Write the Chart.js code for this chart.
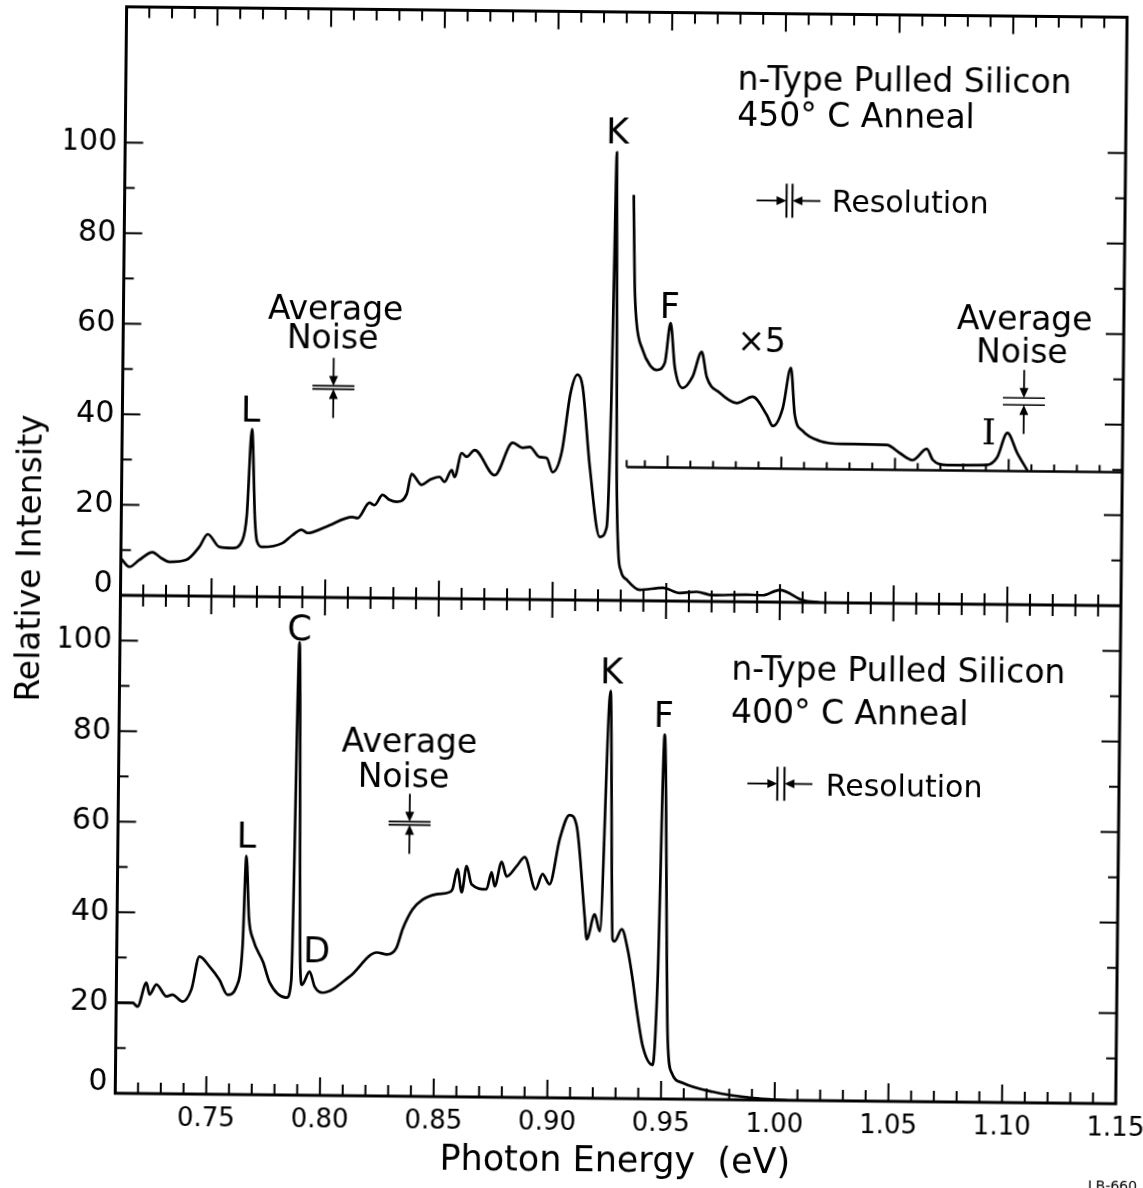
<!DOCTYPE html>
<html>
<head>
<meta charset="utf-8">
<title>Photoluminescence of n-type pulled silicon</title>
<script src="https://cdn.jsdelivr.net/npm/chart.js@4.4.1/dist/chart.umd.min.js"></script>
<style>
  html, body { margin: 0; padding: 0; background: #fff; overflow: hidden; }
  #sheet { position: absolute; left: 0; top: 0; width: 1170px; height: 1188px;
           transform: rotate(0.6deg); transform-origin: 571.5px 594px; }
  canvas { display: block; }
</style>
</head>
<body>
<div id="sheet"><canvas id="spectra" width="1170" height="1188"></canvas></div>
<script>
// ---- Spectrum, 450 °C anneal (relative intensity vs photon energy, eV) ----
const topEnergy = [0.7100,0.7138,0.7180,0.7239,0.7275,0.7314,0.7389,0.7445,0.7481,0.7533,0.7591,0.7634,0.7652,0.7671,0.7688,0.7698,0.7722,0.7810,0.7854,0.7893,0.7920,0.8000,0.8117,0.8139,0.8191,0.8213,0.8248,0.8279,0.8310,0.8354,0.8375,0.8419,0.8454,0.8498,0.8520,0.8551,0.8564,0.8594,0.8616,0.8651,0.8740,0.8818,0.8862,0.8893,0.8937,0.8968,0.8995,0.9034,0.9070,0.9100,0.9123,0.9158,0.9205,0.9235,0.9250,0.9256,0.9263,0.9276,0.9287,0.9300,0.9326,0.9383,0.9485,0.9559,0.9634,0.9704,0.9850,0.9924,0.9999,1.0101,1.0176];
const topIntensity = [8.2,6.3,7.8,9.6,8.4,7.5,8.0,10.9,13.7,10.9,10.7,12.5,18.0,37.0,17.0,12.2,11.0,11.9,13.7,14.9,14.2,15.6,17.8,17.6,21.0,20.5,22.8,21.7,21.3,23.0,27.5,25.1,26.2,26.9,25.8,28.4,26.9,32.2,31.4,32.9,27.4,34.6,33.5,33.7,31.5,31.3,28.2,32.7,45.7,49.8,47.1,29.4,14.0,16.2,45.0,72.0,99.0,30.0,11.0,6.5,4.6,2.4,2.9,1.8,2.1,1.4,1.6,1.5,2.7,0.5,0.0];

// ---- Same spectrum magnified ×5, drawn above its own baseline ----
const insetEnergy = [0.9339,0.9347,0.9356,0.9385,0.9417,0.9448,0.9483,0.9507,0.9527,0.9563,0.9606,0.9645,0.9668,0.9726,0.9801,0.9871,0.9934,0.9961,1.0004,1.0038,1.0057,1.0092,1.0169,1.0270,1.0463,1.0521,1.0578,1.0639,1.0666,1.0728,1.0904,1.0948,1.0993,1.1037,1.1081];
const insetIntensity = [89.4,70.0,62.0,55.4,52.1,51.0,52.6,61.4,51.7,47.1,49.6,55.1,49.6,46.1,43.9,45.3,41.3,38.9,42.9,51.8,41.4,37.9,35.7,35.1,35.0,33.2,31.7,34.2,31.8,30.7,30.8,32.4,37.9,33.5,29.8];
const insetBaseline = 29.5;   // zero line of the ×5 trace on the upper intensity scale
const insetStart = 0.932;     // left end of that zero line (eV)

// ---- Spectrum, 400 °C anneal ----
const bottomEnergy = [0.7101,0.7172,0.7194,0.7232,0.7246,0.7276,0.7321,0.7347,0.7392,0.7430,0.7464,0.7509,0.7553,0.7589,0.7628,0.7653,0.7666,0.7680,0.7699,0.7745,0.7774,0.7849,0.7869,0.7890,0.7908,0.7916,0.7949,0.7972,0.8007,0.8125,0.8244,0.8288,0.8330,0.8356,0.8399,0.8443,0.8504,0.8561,0.8574,0.8595,0.8614,0.8635,0.8657,0.8723,0.8745,0.8759,0.8789,0.8811,0.8855,0.8890,0.8939,0.8969,0.9000,0.9043,0.9085,0.9117,0.9156,0.9166,0.9200,0.9223,0.9260,0.9280,0.9289,0.9320,0.9347,0.9370,0.9389,0.9418,0.9462,0.9480,0.9500,0.9527,0.9546,0.9595,0.9727,0.9904,1.0050];
const bottomIntensity = [20.0,20.0,19.2,24.5,21.9,24.1,21.5,21.9,20.4,23.1,30.4,28.2,25.3,22.0,23.8,32.7,52.7,39.0,34.3,29.2,24.8,21.5,25.5,100.0,28.0,24.4,27.3,24.0,22.7,26.3,31.7,31.3,32.8,36.9,41.3,43.5,44.7,45.2,45.9,50.3,45.2,51.0,47.0,45.9,49.7,46.6,52.0,48.8,51.1,53.1,46.0,49.4,47.2,57.2,62.5,60.1,40.2,35.1,40.6,36.9,90.0,35.1,34.7,37.4,32.9,26.3,19.7,11.5,7.5,26.4,80.5,13.1,5.8,3.6,1.7,0.4,0.0];

// ---- Axis ticks ----
const energyTicks = [0.75,0.80,0.85,0.90,0.95,1.00,1.05,1.10,1.15];
const energyTickLabels = ['0.75','0.80','0.85','0.90','0.95','1.00','1.05','1.10','1.15'];
const intensityTicks = [0,20,40,60,80,100];
const intensityTickLabels = ['0','20','40','60','80','100'];

const INK = '#000';
const FONT = 'DejaVu Sans';

// Text placed in data coordinates of the panel it belongs to
const notes = [
  {panel:'top', x:0.9265, y:103.8, text:'K', size:35},
  {panel:'top', x:0.9503, y:65.4, text:'F', size:35},
  {panel:'top', x:0.7664, y:41.5, text:'L', size:35},
  {panel:'top', x:0.9908, y:57.9, text:'\u00d75', size:33},
  {panel:'top', x:1.0911, y:38.3, text:'I', size:36, family:'DejaVu Serif'},
  {panel:'top', x:0.979, y:115.8, text:'n-Type Pulled Silicon', size:33, align:'left'},
  {panel:'top', x:0.979, y:107.9, text:'450\u00b0 C Anneal', size:33, align:'left'},
  {panel:'top', x:1.021, y:88.7, text:'Resolution', size:30, align:'left'},
  {panel:'top', x:0.8033, y:64.0, text:'Average', size:33},
  {panel:'top', x:0.8021, y:57.6, text:'Noise', size:33},
  {panel:'top', x:1.1064, y:63.4, text:'Average', size:33},
  {panel:'top', x:1.1053, y:56.1, text:'Noise', size:33},
  {panel:'bottom', x:0.7665, y:57.3, text:'L', size:35},
  {panel:'bottom', x:0.7889, y:103.3, text:'C', size:35},
  {panel:'bottom', x:0.7979, y:32.3, text:'D', size:35},
  {panel:'bottom', x:0.9264, y:94.4, text:'K', size:35},
  {panel:'bottom', x:0.9495, y:85.0, text:'F', size:35},
  {panel:'bottom', x:0.979, y:95.5, text:'n-Type Pulled Silicon', size:33, align:'left'},
  {panel:'bottom', x:0.979, y:85.9, text:'400\u00b0 C Anneal', size:33, align:'left'},
  {panel:'bottom', x:1.021, y:69.9, text:'Resolution', size:30, align:'left'},
  {panel:'bottom', x:0.8378, y:78.6, text:'Average', size:33},
  {panel:'bottom', x:0.8353, y:71.0, text:'Noise', size:33}
];

// Average-noise bars: centre and band height in intensity units
const noiseMarks = [
  {panel:'top', x:0.8027, y:46.4, band:0.7},
  {panel:'top', x:1.1064, y:44.9, band:1.55},
  {panel:'bottom', x:0.8382, y:60.3, band:0.7}
];
// Spectral resolution: centre and width in eV
const resolutionMarks = [
  {panel:'top', x:1.0024, y:88.7, width:0.0026},
  {panel:'bottom', x:1.0013, y:69.9, width:0.0031}
];

function pts(xs, ys) { return xs.map((x, i) => ({x, y: ys[i]})); }
function seg(ctx, x1, y1, x2, y2) { ctx.beginPath(); ctx.moveTo(x1, y1); ctx.lineTo(x2, y2); ctx.stroke(); }
function head(ctx, tx, ty, dx, dy) {
  const L = 10, W = 4.5, bx = tx - dx * L, by = ty - dy * L;
  ctx.beginPath(); ctx.moveTo(tx, ty);
  ctx.lineTo(bx - dy * W, by + dx * W); ctx.lineTo(bx + dy * W, by - dx * W);
  ctx.closePath(); ctx.fill();
}
const panelScale = (chart, panel) => chart.scales[panel === 'top' ? 'yTop' : 'yBottom'];

// Box, inward tick marks and the zero line of the ×5 trace
const framePlugin = {
  id: 'frame',
  afterDatasetsDraw(chart) {
    const {ctx, chartArea: a, scales: {x, yTop, yBottom}} = chart;
    const mid = yTop.getPixelForValue(0);
    ctx.save();
    ctx.strokeStyle = INK; ctx.fillStyle = INK; ctx.lineCap = 'butt';
    ctx.lineWidth = 3;
    ctx.strokeRect(a.left, a.top, a.right - a.left, a.bottom - a.top);
    seg(ctx, a.left, mid, a.right, mid);
    ctx.lineWidth = 2;
    for (let i = 72; i <= 114; i++) {
      const p = x.getPixelForValue(i / 100);
      const len = i % 5 === 0 ? 18 : 11;
      seg(ctx, p, a.top, p, a.top + len);
      seg(ctx, p, mid - len, p, mid + len);
      seg(ctx, p, a.bottom - len, p, a.bottom);
    }
    for (const s of [yTop, yBottom]) {
      for (let v = 10; v <= 100; v += 10) {
        const p = s.getPixelForValue(v);
        const len = v % 20 === 0 ? 18 : 10;
        seg(ctx, a.left, p, a.left + len, p);
        seg(ctx, a.right - len, p, a.right, p);
      }
    }
    const b = yTop.getPixelForValue(insetBaseline);
    const x0 = x.getPixelForValue(insetStart);
    ctx.lineWidth = 2.4;
    seg(ctx, x0, b, a.right, b);
    ctx.lineWidth = 2;
    seg(ctx, x0, b, x0, b - 7);
    for (let i = 94; i <= 114; i++) {
      const p = x.getPixelForValue(i / 100);
      seg(ctx, p, b, p, b - (i % 5 === 0 ? 12 : 7));
    }
    ctx.restore();
  }
};

// Peak letters, sample captions, noise and resolution symbols, y-axis title
const notePlugin = {
  id: 'notes',
  afterDraw(chart) {
    const {ctx, chartArea: a, scales: {x}} = chart;
    ctx.save();
    ctx.fillStyle = INK; ctx.strokeStyle = INK;
    for (const n of notes) {
      const s = panelScale(chart, n.panel);
      ctx.font = `${n.size}px "${n.family || FONT}"`;
      ctx.textAlign = n.align || 'center';
      ctx.textBaseline = 'alphabetic';
      ctx.fillText(n.text, x.getPixelForValue(n.x), s.getPixelForValue(n.y) + 0.365 * n.size);
    }
    for (const m of noiseMarks) {
      const s = panelScale(chart, m.panel);
      const cx = x.getPixelForValue(m.x);
      const hi = s.getPixelForValue(m.y + m.band / 2);
      const lo = s.getPixelForValue(m.y - m.band / 2);
      ctx.lineWidth = 1.7;
      seg(ctx, cx - 21, hi, cx + 21, hi);
      seg(ctx, cx - 21, lo, cx + 21, lo);
      ctx.lineWidth = 1.8;
      seg(ctx, cx, hi - 28, cx, hi - 8); head(ctx, cx, hi, 0, 1);
      seg(ctx, cx, lo + 29, cx, lo + 8); head(ctx, cx, lo, 0, -1);
    }
    for (const r of resolutionMarks) {
      const s = panelScale(chart, r.panel);
      const cy = s.getPixelForValue(r.y);
      const xl = x.getPixelForValue(r.x - r.width / 2);
      const xr = x.getPixelForValue(r.x + r.width / 2);
      ctx.lineWidth = 2;
      seg(ctx, xl, cy - 17, xl, cy + 17);
      seg(ctx, xr, cy - 17, xr, cy + 17);
      ctx.lineWidth = 1.8;
      seg(ctx, xl - 30, cy, xl - 8, cy); head(ctx, xl, cy, 1, 0);
      seg(ctx, xr + 28, cy, xr + 8, cy); head(ctx, xr, cy, -1, 0);
    }
    ctx.save();
    ctx.translate(a.left - 80.5, (a.top + a.bottom) / 2 + 9);
    ctx.rotate(-Math.PI / 2);
    ctx.font = `33px "${FONT}"`;
    ctx.textAlign = 'center'; ctx.textBaseline = 'alphabetic';
    ctx.fillText('Relative Intensity', 0, 0);
    ctx.restore();
    ctx.font = `14px "${FONT}"`;
    ctx.textAlign = 'left'; ctx.textBaseline = 'alphabetic';
    ctx.fillText('LB-660', a.right - 27, chart.height - 3);
    ctx.restore();
  }
};

const trace = {
  borderColor: INK, borderWidth: 2.7, pointRadius: 0, fill: false,
  cubicInterpolationMode: 'monotone', borderJoinStyle: 'round', borderCapStyle: 'round'
};

// The zero label sits a little above its tick so it clears the axis line
function intensityScale(max) {
  return {
    type: 'linear', position: 'left', stack: 'panels', stackWeight: max, min: 0, max,
    grid: { display: false, drawTicks: false }, border: { display: false },
    afterBuildTicks: s => { s.ticks = intensityTicks.map(v => ({value: v})); },
    afterFit: s => { s.width = 60; s.paddingTop = 0; s.paddingBottom = 0; },
    ticks: {
      padding: 8, color: INK,
      font: c => ({ family: FONT, size: 30, lineHeight: c.tick && c.tick.value === 0 ? 0.75 : 1.2 }),
      callback: (v, i) => (v === 0 ? [intensityTickLabels[i], ''] : intensityTickLabels[i])
    }
  };
}

new Chart(document.getElementById('spectra'), {
  type: 'line',
  data: {
    datasets: [
      { ...trace, label: '450 \u00b0C anneal', data: pts(topEnergy, topIntensity), yAxisID: 'yTop' },
      { ...trace, label: '450 \u00b0C anneal \u00d75', data: pts(insetEnergy, insetIntensity), yAxisID: 'yTop' },
      { ...trace, label: '400 \u00b0C anneal', data: pts(bottomEnergy, bottomIntensity), yAxisID: 'yBottom' }
    ]
  },
  options: {
    responsive: false,
    animation: false,
    devicePixelRatio: 1,
    layout: { padding: { left: 60.5, right: 49, top: 11.5, bottom: 5 } },
    plugins: { legend: { display: false }, tooltip: { enabled: false } },
    scales: {
      x: {
        type: 'linear', position: 'bottom', min: 0.71, max: 1.15,
        grid: { display: false, drawTicks: false }, border: { display: false },
        afterBuildTicks: s => { s.ticks = energyTicks.map(v => ({value: v})); },
        afterFit: s => { s.height = 85; s.paddingLeft = 0; s.paddingRight = 0; },
        ticks: { autoSkip: false, maxRotation: 0, minRotation: 0, padding: 10, color: INK,
                 font: { family: FONT, size: 26 }, callback: (v, i) => energyTickLabels[i] },
        title: { display: true, text: 'Photon Energy  (eV)', color: INK,
                 font: { family: FONT, size: 35 }, padding: { top: 0, bottom: 0 } }
      },
      yBottom: intensityScale(110),
      yTop: intensityScale(130)
    }
  },
  plugins: [framePlugin, notePlugin]
});
</script>
</body>
</html>
